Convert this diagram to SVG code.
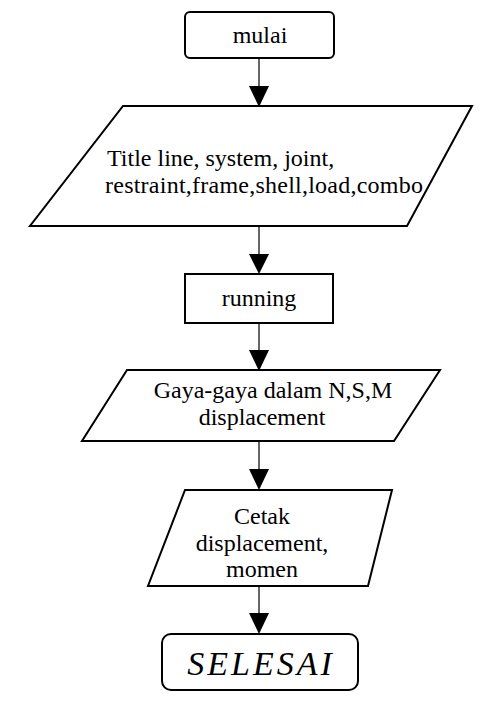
<svg xmlns="http://www.w3.org/2000/svg" width="498" height="705" viewBox="0 0 498 705">
  <style>
    .box { fill: #fff; stroke: #000; stroke-width: 2; }
    .flow { stroke: #000; stroke-width: 1.2; fill: none; }
    .head { fill: #000; }
    text { font-family: "Liberation Serif", "Times New Roman", serif; font-size: 24px; fill: #000; }
    .c { text-anchor: middle; }
    .end { font-style: italic; font-size: 34px; letter-spacing: 3px; }
  </style>
  <rect width="498" height="705" fill="#fff"/>

  <g id="connectors">
    <line class="flow" x1="259" y1="58" x2="259" y2="88"/>
    <polygon class="head" points="249,86 269,86 259,107"/>
    <line class="flow" x1="259" y1="226" x2="259" y2="256"/>
    <polygon class="head" points="249,254 269,254 259,274"/>
    <line class="flow" x1="259" y1="323" x2="259" y2="352"/>
    <polygon class="head" points="249,350 269,350 259,371"/>
    <line class="flow" x1="259" y1="441" x2="259" y2="471"/>
    <polygon class="head" points="249,469 269,469 259,490"/>
    <line class="flow" x1="259" y1="585" x2="259" y2="615"/>
    <polygon class="head" points="249,613 269,613 259,634"/>
  </g>

  <g id="mulai">
    <rect class="box" x="185" y="12" width="149" height="46" rx="5"/>
    <text class="c" x="260" y="43">mulai</text>
  </g>

  <g id="input">
    <polygon class="box" points="123,106 472,106 407,226 30,226"/>
    <text x="107" y="166">Title line, system, joint,</text>
    <text x="105" y="193" textLength="318">restraint,frame,shell,load,combo</text>
  </g>

  <g id="running">
    <rect class="box" x="185" y="274" width="148" height="49"/>
    <text class="c" x="259" y="306">running</text>
  </g>

  <g id="output-gaya">
    <polygon class="box" points="127,370 440,370 394,441 82,441"/>
    <text class="c" x="273" y="398">Gaya-gaya dalam N,S,M</text>
    <text class="c" x="262" y="425">displacement</text>
  </g>

  <g id="cetak">
    <polygon class="box" points="185,490 392,490 368,586 148,586"/>
    <text class="c" x="262" y="524">Cetak</text>
    <text class="c" x="262" y="551">displacement,</text>
    <text class="c" x="262" y="577">momen</text>
  </g>

  <g id="selesai">
    <rect class="box" x="162" y="634" width="196" height="56" rx="9"/>
    <text class="c end" x="261" y="675">SELESAI</text>
  </g>
</svg>
